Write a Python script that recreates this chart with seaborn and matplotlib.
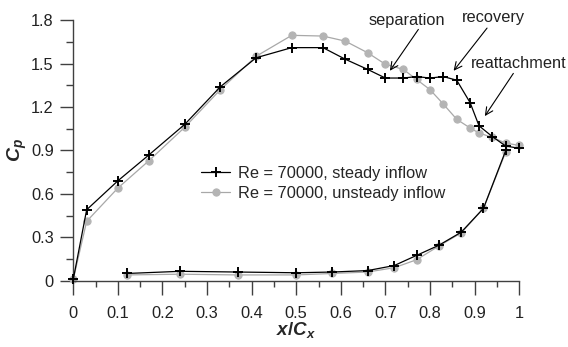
import numpy as np
import pandas as pd
import matplotlib
matplotlib.use("Agg")
import matplotlib.pyplot as plt
import seaborn as sns
from matplotlib.ticker import MultipleLocator, FuncFormatter

# ---------------- data ----------------
x_upper = [0.00, 0.03, 0.10, 0.17, 0.25, 0.33, 0.41, 0.49, 0.56, 0.61, 0.66,
           0.70, 0.74, 0.77, 0.80, 0.83, 0.86, 0.89, 0.91, 0.94, 0.97, 1.00]
cp_upper_steady = [0.01, 0.49, 0.69, 0.87, 1.08, 1.34, 1.54, 1.61, 1.61, 1.53, 1.46,
                   1.40, 1.40, 1.41, 1.40, 1.41, 1.385, 1.23, 1.07, 0.995, 0.93, 0.915]
cp_upper_unsteady = [0.01, 0.41, 0.64, 0.83, 1.06, 1.32, 1.55, 1.695, 1.69, 1.655, 1.575,
                     1.495, 1.46, 1.39, 1.32, 1.22, 1.115, 1.055, 1.02, 0.99, 0.95, 0.935]

x_lower = [0.12, 0.24, 0.37, 0.50, 0.58, 0.66, 0.72, 0.77, 0.82, 0.87, 0.92, 0.97]
cp_lower_steady = [0.05, 0.065, 0.06, 0.055, 0.06, 0.07, 0.105, 0.175, 0.245, 0.335, 0.50, 0.90]
cp_lower_unsteady = [0.04, 0.045, 0.04, 0.04, 0.05, 0.06, 0.09, 0.145, 0.24, 0.33, 0.50, 0.89]

labels = ["Re = 70000, steady inflow", "Re = 70000, unsteady inflow"]

annot_text = ["separation", "recovery", "reattachment"]
annot_text_xy = [(0.748, 1.80), (0.942, 1.816), (0.998, 1.50)]
annot_start = [(0.774, 1.736), (0.928, 1.745), (0.987, 1.432)]
annot_tip = [(0.710, 1.45), (0.853, 1.45), (0.923, 1.137)]

x_ticks_major = 0.1
y_ticks_major = 0.3

# ---------------- style ----------------
sns.set_theme(style="white")
plt.rcParams['font.family'] = ['Liberation Sans', 'DejaVu Sans']
plt.rcParams['mathtext.fontset'] = 'custom'
plt.rcParams['mathtext.it'] = 'Liberation Sans:bold:italic'
plt.rcParams['mathtext.rm'] = 'Liberation Sans:bold'
plt.rcParams['mathtext.bf'] = 'Liberation Sans:bold'

FS = 11.8
axis_col = '#404040'
gray_line = '#a8a8a8'
gray_mark = '#b4b4b4'

fig = plt.figure(figsize=(5.68, 3.47), dpi=100)
ax = fig.add_axes([0.129, 0.191, 0.785, 0.751])

def seg(df_x, df_y, **kw):
    d = pd.DataFrame({"x": df_x, "cp": df_y})
    sns.lineplot(data=d, x="x", y="cp", sort=False, ax=ax, clip_on=False, **kw)

# unsteady (gray)
kw_u = dict(color=gray_line, lw=0.9, marker='o', markersize=5.2,
            markerfacecolor=gray_mark, markeredgecolor=gray_mark, zorder=2)
seg(x_upper, cp_upper_unsteady, label=labels[1], **kw_u)
seg(x_lower, cp_lower_unsteady, **kw_u)

# steady (black)
kw_s = dict(color='black', lw=0.9, marker='+', markersize=7, markeredgewidth=1.4,
            markeredgecolor='black', zorder=3)
seg(x_upper, cp_upper_steady, label=labels[0], **kw_s)
seg(x_lower, cp_lower_steady, **kw_s)

ax.set_xlim(0, 1)
ax.set_ylim(0, 1.8)

for s in ['top', 'right']:
    ax.spines[s].set_visible(False)
for s in ['left', 'bottom']:
    ax.spines[s].set_color(axis_col)
    ax.spines[s].set_linewidth(1.0)

fmt = FuncFormatter(lambda v, p: f"{v:g}")
ax.xaxis.set_major_locator(MultipleLocator(x_ticks_major))
ax.xaxis.set_minor_locator(MultipleLocator(x_ticks_major / 2))
ax.yaxis.set_major_locator(MultipleLocator(y_ticks_major))
ax.yaxis.set_minor_locator(MultipleLocator(y_ticks_major / 2))
ax.xaxis.set_major_formatter(fmt)
ax.yaxis.set_major_formatter(fmt)
ax.tick_params(which='both', direction='out', color=axis_col, width=1.0,
               bottom=True, left=True, labelsize=FS, labelcolor='#222222')
ax.tick_params(axis='x', which='major', length=10, pad=8)
ax.tick_params(axis='x', which='minor', length=4.5)
ax.tick_params(axis='y', which='major', length=9.5, pad=4.5)
ax.tick_params(axis='y', which='minor', length=5)

ax.set_xlabel(r'$x/C_x$', fontsize=13.5)
ax.set_ylabel(r'$C_p$', fontsize=14)
ax.xaxis.set_label_coords(0.5, -0.19)
ax.xaxis.label.set_va('center')
ax.yaxis.set_label_coords(-0.126, 0.5)
ax.yaxis.label.set_va('center')

# legend in the order steady, unsteady
h, l = ax.get_legend_handles_labels()
order = [l.index(labels[0]), l.index(labels[1])]
ax.legend([h[i] for i in order], [l[i] for i in order], loc='upper left',
          bbox_to_anchor=(0.286, 0.44), frameon=False, fontsize=FS,
          handlelength=1.8, handletextpad=0.45, borderpad=0, borderaxespad=0,
          labelspacing=0.3)

for t, txy, st, tip in zip(annot_text, annot_text_xy, annot_start, annot_tip):
    ax.text(txy[0], txy[1], t, ha='center', va='center', fontsize=FS,
            color='#222222', clip_on=False)
    ax.annotate('', xy=tip, xytext=st,
                arrowprops=dict(arrowstyle='->,head_length=0.45,head_width=0.22',
                                color='black', lw=0.8, shrinkA=0, shrinkB=0),
                annotation_clip=False)

fig.savefig('out.png', dpi=100)
